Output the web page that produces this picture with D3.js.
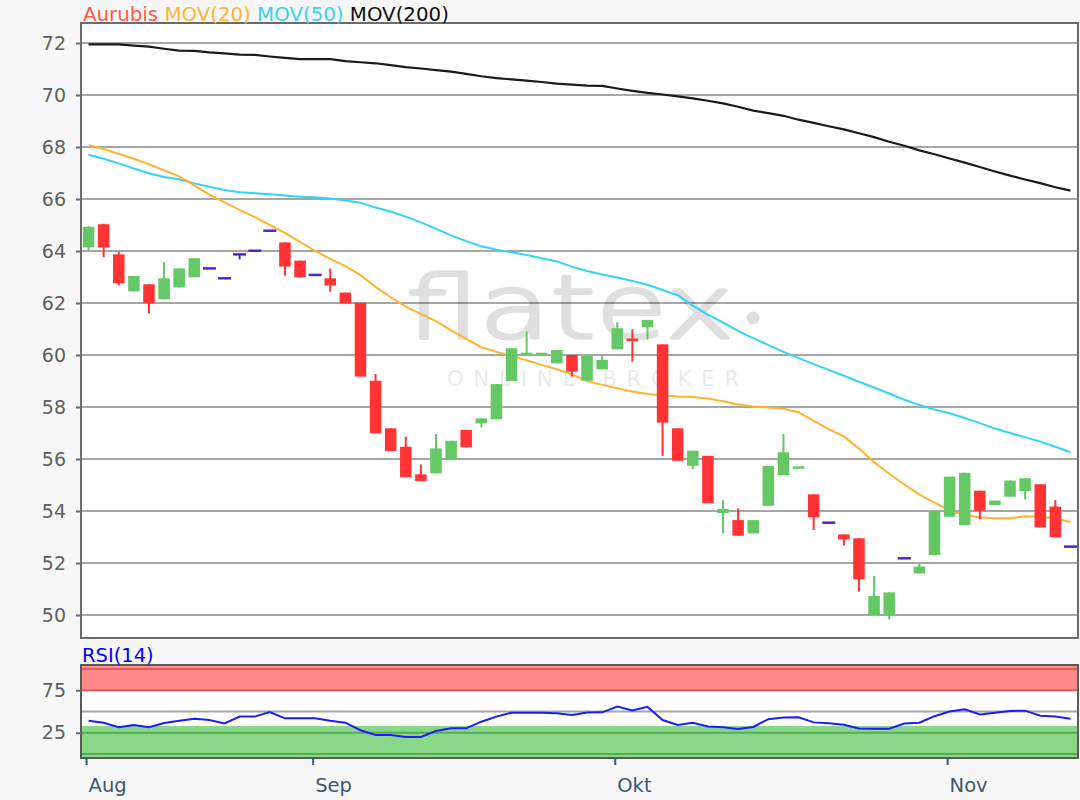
<!DOCTYPE html>
<html>
<head>
<meta charset="utf-8">
<script src="https://cdn.jsdelivr.net/npm/d3@7"></script>
<style>
  body { margin: 0; background: #f7f7f7; }
  text { font-family: "DejaVu Sans", Verdana, sans-serif; }
</style>
</head>
<body>
<svg id="chart" width="1080" height="800"></svg>
<script>
// daily candles, Aurubis
var openP  = [64.14,65.03,63.87,62.45,62.72,62.14,62.6,62.99,63.33,62.95,63.87,64.01,64.78,64.33,63.63,63.08,62.95,62.4,62.01,59.01,57.18,56.47,55.41,55.45,55.99,57.12,57.37,57.53,59.0,60.02,60.02,59.68,60.0,59.01,59.45,60.22,60.62,61.07,60.41,57.18,55.74,56.12,53.92,53.65,53.14,54.2,55.38,55.65,54.64,53.55,53.1,52.95,50.0,50.0,52.18,51.6,52.31,53.78,53.46,54.78,54.23,54.55,54.77,55.03,54.17,52.63];
var highP  = [64.95,65.05,63.97,63.04,62.72,63.57,63.33,63.72,63.33,62.95,63.87,64.01,64.78,64.33,63.63,63.08,63.33,62.4,62.01,59.27,57.18,56.86,55.79,56.96,56.7,57.12,57.56,58.88,60.26,60.9,60.06,60.19,60.0,59.96,60.0,61.26,60.99,61.35,60.41,57.18,56.32,56.12,54.42,54.1,53.65,55.73,56.96,55.69,54.64,53.55,53.1,52.95,51.5,50.87,52.18,51.99,54.01,55.32,55.47,54.78,54.4,55.17,55.26,55.03,54.42,52.63];
var lowP   = [64.0,63.76,62.67,62.45,61.6,62.14,62.6,62.99,63.33,62.95,63.68,64.01,64.78,63.05,62.99,63.08,62.43,61.99,59.17,56.99,56.31,55.3,55.15,55.45,55.99,56.45,57.22,57.53,59.0,60.02,60.02,59.68,59.17,59.01,59.45,60.22,59.74,60.6,56.12,55.93,55.6,54.3,53.14,53.05,53.14,54.2,55.38,55.65,53.27,53.55,52.67,50.9,50.0,49.83,52.18,51.6,52.31,53.78,53.46,53.68,54.23,54.55,54.45,53.37,52.99,52.63];
var closeP = [64.93,64.14,62.76,63.04,61.99,62.95,63.33,63.72,63.33,62.95,63.87,64.01,64.78,63.4,62.99,63.08,62.67,61.99,59.17,56.99,56.31,55.3,55.15,56.41,56.7,56.45,57.56,58.88,60.26,60.06,60.06,60.19,59.36,59.96,59.81,61.03,60.55,61.35,57.4,55.93,56.32,54.3,54.08,53.05,53.65,55.73,56.26,55.69,53.76,53.55,52.91,51.37,50.73,50.87,52.18,51.86,54.01,55.32,55.47,54.01,54.4,55.17,55.26,53.37,52.99,52.63];

// moving averages
var mov20  = [68.07,67.92,67.74,67.55,67.34,67.1,66.87,66.52,66.17,65.87,65.58,65.3,65.0,64.7,64.35,64.0,63.7,63.42,63.07,62.62,62.22,61.86,61.58,61.3,60.95,60.62,60.3,60.12,59.95,59.8,59.62,59.45,59.25,59.0,58.85,58.72,58.6,58.5,58.45,58.4,58.38,58.33,58.22,58.1,58.02,57.98,57.93,57.8,57.47,57.15,56.87,56.4,55.88,55.43,55.02,54.63,54.32,54.02,53.85,53.75,53.72,53.72,53.8,53.78,53.72,53.58];
var mov50  = [67.7,67.55,67.37,67.17,66.99,66.85,66.76,66.6,66.47,66.35,66.26,66.22,66.18,66.13,66.09,66.07,66.02,65.94,65.86,65.67,65.52,65.32,65.1,64.85,64.6,64.38,64.18,64.05,63.95,63.85,63.72,63.6,63.4,63.23,63.1,62.98,62.85,62.7,62.5,62.3,61.9,61.55,61.25,60.93,60.65,60.38,60.12,59.88,59.65,59.43,59.2,58.97,58.75,58.52,58.28,58.08,57.9,57.76,57.58,57.38,57.17,57.0,56.84,56.67,56.47,56.26];
var mov200 = [71.95,71.95,71.95,71.9,71.86,71.78,71.71,71.7,71.64,71.6,71.55,71.54,71.48,71.43,71.38,71.38,71.38,71.3,71.26,71.22,71.15,71.07,71.02,70.96,70.9,70.81,70.72,70.65,70.6,70.55,70.5,70.44,70.4,70.36,70.35,70.25,70.16,70.08,70.02,69.95,69.87,69.78,69.68,69.55,69.4,69.3,69.2,69.05,68.93,68.8,68.68,68.53,68.38,68.2,68.05,67.87,67.72,67.56,67.4,67.23,67.06,66.9,66.75,66.61,66.45,66.32];

// RSI(14)
var rsi14 = [39,36.8,31.5,34,31.5,36.5,39,41.5,40,36,44,44,49.4,42,42,42,39,36.8,28,22.4,22.4,20,20,27,30.2,30.2,38,44,48.6,48.6,48.6,47.8,46,48.8,49,55.7,51.2,55.5,40,34.2,36.8,32.4,31.4,29.5,31.8,41,43,43.1,37.2,36.2,34.3,30,29.8,29.8,35.8,36.8,44.5,50,52.5,46.5,48.4,50.7,51,45,44,41.5];

var monthLabels = ["Aug", "Sep", "Okt", "Nov"];
var monthIndex  = [0, 15, 35, 57];
var priceTicks  = [50, 52, 54, 56, 58, 60, 62, 64, 66, 68, 70, 72];
var rsiTicks    = [25, 75];
var legendNames = ["Aurubis", "MOV(20)", "MOV(50)", "MOV(200)"];
var legendColors = ["#ff5a45", "#ffb531", "#3dd0f0", "#111111"];

var svg = d3.select("#chart");
var n = closeP.length;
var left = 81, right = 1078;
var main = {top: 23, bottom: 638};
var rsiBox = {top: 665, bottom: 758};

var x = d3.scaleBand().domain(d3.range(n)).range([left, right]).padding(0);
var xc = function(i) { return x(i) + x.bandwidth() / 2; };
var y = d3.scaleLinear().domain([50, 72]).range([615, 43]);
var yr = d3.scaleLinear().domain([0, 100]).range([754, 669]);

// ---------- main panel ----------
svg.append("rect")
  .attr("x", left).attr("y", main.top)
  .attr("width", right - left).attr("height", main.bottom - main.top)
  .attr("fill", "#fff");

svg.append("g").selectAll("line")
  .data(priceTicks).enter().append("line")
  .attr("x1", left).attr("x2", right)
  .attr("y1", function(d) { return y(d); }).attr("y2", function(d) { return y(d); })
  .attr("stroke", "#a6a6a6").attr("stroke-width", 2);

// watermark
var wm = svg.append("g").attr("opacity", 0.12);
wm.append("text").attr("x", 406).attr("y", 338)
  .attr("font-family", "Lato, 'Open Sans', sans-serif").attr("font-weight", 300)
  .attr("font-size", 88).attr("textLength", 328).attr("lengthAdjust", "spacingAndGlyphs")
  .attr("fill", "#000").attr("stroke", "#000").attr("stroke-width", 3.5)
  .attr("stroke-linejoin", "round").attr("stroke-linecap", "round")
  .text("flatex");
wm.append("circle").attr("cx", 753).attr("cy", 318).attr("r", 6.5).attr("fill", "#000");
svg.append("text").attr("x", 447).attr("y", 386)
  .attr("font-size", 21).attr("textLength", 292).attr("lengthAdjust", "spacing")
  .attr("fill", "#000").attr("opacity", 0.08)
  .text("ONLINE BROKER");

// moving average lines
function maLine(vals) {
  return d3.line().x(function(d, i) { return xc(i); }).y(function(d) { return y(d); })(vals);
}
svg.append("path").attr("d", maLine(mov200)).attr("fill", "none").attr("stroke", "#1a1a1a").attr("stroke-width", 2.2);
svg.append("path").attr("d", maLine(mov50)).attr("fill", "none").attr("stroke", "#33d4f5").attr("stroke-width", 2);
svg.append("path").attr("d", maLine(mov20)).attr("fill", "none").attr("stroke", "#ffb42e").attr("stroke-width", 2);

// candles
var bodyW = 11.5;
function candleColor(i) {
  if (closeP[i] > openP[i]) return "#64c864";
  if (closeP[i] < openP[i]) return "#ff3333";
  return "#5522cc";
}
var cg = svg.append("g").selectAll("g").data(d3.range(n)).enter().append("g");
cg.append("line")
  .attr("x1", xc).attr("x2", xc)
  .attr("y1", function(i) { return y(highP[i]); })
  .attr("y2", function(i) { return y(lowP[i]); })
  .attr("stroke", candleColor).attr("stroke-width", 2);
cg.append("rect")
  .attr("x", function(i) { return xc(i) - (closeP[i] === openP[i] ? 6.5 : bodyW / 2); })
  .attr("width", function(i) { return closeP[i] === openP[i] ? 13 : bodyW; })
  .attr("y", function(i) {
    var t = y(Math.max(openP[i], closeP[i])), b = y(Math.min(openP[i], closeP[i]));
    return b - t < 2.5 ? (t + b) / 2 - 1.25 : t;
  })
  .attr("height", function(i) {
    var h = y(Math.min(openP[i], closeP[i])) - y(Math.max(openP[i], closeP[i]));
    return Math.max(h, 2.5);
  })
  .attr("fill", candleColor);

// border and y axis
svg.append("rect")
  .attr("x", left).attr("y", main.top)
  .attr("width", right - left).attr("height", main.bottom - main.top)
  .attr("fill", "none").attr("stroke", "#6b6b6b").attr("stroke-width", 2);

var yAxis = svg.append("g").attr("transform", "translate(" + left + ",0)")
  .call(d3.axisLeft(y).tickValues(priceTicks).tickSize(5).tickPadding(10).tickFormat(d3.format("d")));
yAxis.select(".domain").remove();
yAxis.selectAll("line").attr("stroke", "#6b6b6b").attr("stroke-width", 2);
yAxis.selectAll("text").attr("fill", "#5f5f5f").attr("font-size", 19)
  .attr("font-family", "DejaVu Sans, Verdana, sans-serif");

// legend header
var leg = svg.append("text").attr("x", 83).attr("y", 21).attr("font-size", 19.8);
legendNames.forEach(function(name, k) {
  leg.append("tspan").attr("fill", legendColors[k]).text((k ? " " : "") + name);
});

// ---------- RSI panel ----------
svg.append("rect")
  .attr("x", left).attr("y", rsiBox.top)
  .attr("width", right - left).attr("height", rsiBox.bottom - rsiBox.top)
  .attr("fill", "#fff");
svg.append("rect")
  .attr("x", left).attr("y", rsiBox.top)
  .attr("width", right - left).attr("height", yr(74) - rsiBox.top)
  .attr("fill", "#ff8a8a");
svg.append("rect")
  .attr("x", left).attr("y", yr(33))
  .attr("width", right - left).attr("height", rsiBox.bottom - yr(33))
  .attr("fill", "#88d888");

var rsiLevels = [
  {v: 100, c: "#e05c5c"}, {v: 75, c: "#e05c5c"},
  {v: 50, c: "#a6a6a6"},
  {v: 25, c: "#5aaa5a"}, {v: 0, c: "#5aaa5a"}
];
svg.append("g").selectAll("line").data(rsiLevels).enter().append("line")
  .attr("x1", left).attr("x2", right)
  .attr("y1", function(d) { return yr(d.v); }).attr("y2", function(d) { return yr(d.v); })
  .attr("stroke", function(d) { return d.c; }).attr("stroke-width", 2);

svg.append("path")
  .attr("d", d3.line().x(function(d, i) { return xc(i); }).y(function(d) { return yr(d); })(rsi14))
  .attr("fill", "none").attr("stroke", "#1c1cff").attr("stroke-width", 2);

svg.append("rect")
  .attr("x", left).attr("y", rsiBox.top)
  .attr("width", right - left).attr("height", rsiBox.bottom - rsiBox.top)
  .attr("fill", "none").attr("stroke", "#5a5a5a").attr("stroke-width", 2);

var rAxis = svg.append("g").attr("transform", "translate(" + left + ",0)")
  .call(d3.axisLeft(yr).tickValues(rsiTicks).tickSize(5).tickPadding(10));
rAxis.select(".domain").remove();
rAxis.selectAll("line").attr("stroke", "#6b6b6b").attr("stroke-width", 2);
rAxis.selectAll("text").attr("fill", "#5f5f5f").attr("font-size", 19)
  .attr("font-family", "DejaVu Sans, Verdana, sans-serif");

svg.append("text").attr("x", 82).attr("y", 662).attr("font-size", 19.5)
  .attr("fill", "#0000ff").text("RSI(14)");

// month axis
var xg = svg.append("g").selectAll("g").data(monthIndex).enter().append("g");
xg.append("line")
  .attr("x1", function(i) { return xc(i) - 2; }).attr("x2", function(i) { return xc(i) - 2; })
  .attr("y1", rsiBox.bottom).attr("y2", rsiBox.bottom + 7)
  .attr("stroke", "#3f5672").attr("stroke-width", 2);
xg.append("text")
  .attr("x", function(i) { return xc(i); }).attr("y", 792)
  .attr("font-size", 19.5).attr("fill", "#3f5672")
  .text(function(i, k) { return monthLabels[k]; });
</script>
</body>
</html>
